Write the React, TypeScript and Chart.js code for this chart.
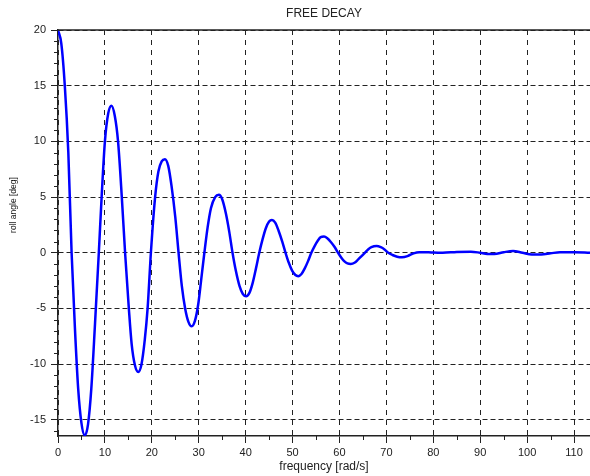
import React, { useEffect, useRef } from "react";
import { Chart, registerables } from "chart.js";

Chart.register(...registerables);

const chartTitle = "FREE DECAY";
const xAxisTitle = "frequency [rad/s]";
const yAxisTitle = "roll angle [deg]";

const xValues = [
  0, 0.7, 1.45, 2.2, 2.9, 3.6, 4.3, 5.0, 5.7,
  6.4, 7.1, 7.9, 8.7, 9.3, 10.0, 10.7, 11.4,
  12.1, 12.8, 13.6, 14.3, 15.1, 15.7, 16.4, 17.1,
  17.8, 18.5, 19.1, 19.8, 20.7, 21.4, 22.1, 22.8,
  23.5, 24.2, 25.0, 25.7, 26.4, 27.1, 27.8, 28.5,
  29.2, 29.9, 30.5, 31.2, 31.9, 32.6, 33.5, 34.3,
  35.0, 35.8, 36.5, 37.2, 37.9, 38.7, 39.4, 40.1,
  40.8, 41.5, 42.2, 42.9, 43.6, 44.3, 45.0, 45.6,
  46.3, 47.0, 47.8, 48.5, 49.2, 49.9, 50.6, 51.2,
  51.9, 52.6, 53.3, 54.0, 54.7, 55.4, 56.0, 56.7,
  57.4, 58.2, 59.0, 59.7, 60.4, 61.0, 61.7, 62.4,
  63.2, 64.0, 64.7, 65.4, 66.1, 66.8, 67.9,
  68.8, 69.6, 70.4, 71.3, 72.3, 73.3,
  74.5, 75.8, 77, 79, 80, 82, 85, 88, 90, 91.5, 93, 95, 97, 99, 101, 103, 105, 107, 110, 113.4,
];

const yValues = [
  20, 18.8, 15.0, 9.0, 0, -6.7, -12.2, -15.3, -16.4,
  -15.4, -12.2, -6.3, 0, 5.0, 10.0, 12.5, 13.2,
  12.3, 10.0, 5.0, 0, -5.0, -8.2, -10.1, -10.7,
  -10.0, -7.8, -5.0, 0, 5.0, 7.3, 8.2, 8.4,
  7.8, 6.0, 3.2, 0, -3.0, -5.0, -6.2, -6.6,
  -6.1, -4.6, -2.5, 0, 2.3, 4.0, 5.0, 5.2,
  4.8, 3.5, 1.9, 0, -1.6, -3.0, -3.7, -3.9,
  -3.6, -2.7, -1.4, 0, 1.2, 2.2, 2.8, 2.95,
  2.7, 2.0, 1.0, 0, -0.9, -1.6, -2.0, -2.1,
  -1.9, -1.4, -0.75, 0, 0.6, 1.1, 1.4, 1.45,
  1.3, 0.95, 0.5, 0, -0.45, -0.75, -0.95, -1.0,
  -0.9, -0.6, -0.3, 0, 0.3, 0.5, 0.6,
  0.5, 0.3, 0, -0.2, -0.35, -0.4,
  -0.3, -0.05, 0.05, 0.05, 0.02, 0.0, 0.08, 0.1, 0.0, -0.1, -0.1, 0.05, 0.15, 0.0, -0.15, -0.15, -0.05, 0.05, 0.05, 0.0,
];

const xTickValues = [0, 10, 20, 30, 40, 50, 60, 70, 80, 90, 100, 110];
const yTickValues = [-15, -10, -5, 0, 5, 10, 15, 20];
const xMinorTicks = [5, 15, 25, 35, 45, 55, 65, 75, 85, 95, 105];
const yMinorTicks = [
  -16, -14, -13, -12, -11, -9, -8, -7, -6, -4, -3, -2, -1,
  1, 2, 3, 4, 6, 7, 8, 9, 11, 12, 13, 14, 16, 17, 18, 19,
];
const xRange = [0, 113.4];
const yRange = [-16.45, 20];

const decorPlugin = {
  id: "decor",
  afterDraw(chart: any) {
    const { ctx, chartArea: a, scales } = chart;
    const x = scales.x;
    const y = scales.y;
    ctx.save();
    ctx.strokeStyle = "#222";
    ctx.lineWidth = 1;
    ctx.setLineDash([]);
    ctx.beginPath();
    yMinorTicks.forEach((v) => {
      const py = Math.round(y.getPixelForValue(v)) + 0.5;
      ctx.moveTo(a.left - 4, py);
      ctx.lineTo(a.left, py);
    });
    xMinorTicks.forEach((v) => {
      const px = Math.round(x.getPixelForValue(v)) + 0.5;
      ctx.moveTo(px, a.bottom);
      ctx.lineTo(px, a.bottom + 4);
    });
    ctx.stroke();
    ctx.lineWidth = 1.5;
    ctx.beginPath();
    ctx.moveTo(a.left, a.top);
    ctx.lineTo(a.right, a.top);
    ctx.stroke();

    ctx.fillStyle = "#222";
    ctx.textAlign = "center";
    ctx.textBaseline = "middle";
    ctx.font = '12px "Liberation Sans", Arial, sans-serif';
    ctx.fillText(chartTitle, (a.left + a.right) / 2, 14);
    ctx.fillText(xAxisTitle, (a.left + a.right) / 2, a.bottom + 31);
    ctx.translate(14, 205);
    ctx.rotate(-Math.PI / 2);
    ctx.fillStyle = "#111";
    ctx.font = '8.5px "Liberation Sans", Arial, sans-serif';
    ctx.fillText(yAxisTitle, 0, 0);
    ctx.restore();
  },
};

export default function App() {
  const canvasRef = useRef<HTMLCanvasElement | null>(null);

  useEffect(() => {
    const canvas = canvasRef.current;
    if (!canvas) return;
    const points = xValues.map((xv, i) => ({ x: xv, y: yValues[i] }));
    const tickFont = { family: '"Liberation Sans", Arial, sans-serif', size: 11 };
    const chart = new Chart(canvas, {
      type: "line",
      data: {
        datasets: [
          {
            data: points,
            borderColor: "#0000ff",
            borderWidth: 2.5,
            pointRadius: 0,
            fill: false,
            cubicInterpolationMode: "monotone",
          },
        ],
      },
      options: {
        responsive: false,
        animation: false,
        devicePixelRatio: 1,
        layout: { padding: { top: 30, left: 0, right: 0, bottom: 0 } },
        plugins: {
          legend: { display: false },
          tooltip: { enabled: false },
          title: { display: false },
        },
        scales: {
          x: {
            type: "linear",
            min: xRange[0],
            max: xRange[1],
            afterBuildTicks: (s: any) => {
              s.ticks = xTickValues.map((v) => ({ value: v }));
            },
            afterFit: (s: any) => {
              s.height = 40;
            },
            grid: {
              color: "#222",
              lineWidth: 1,
              tickLength: 7,
              tickColor: "#222",
              tickBorderDash: [],
              drawTicks: true,
            },
            border: { display: true, color: "#222", width: 1.5, dash: [5, 5] },
            ticks: {
              font: tickFont,
              color: "#222",
              padding: 3,
              maxRotation: 0,
              autoSkip: false,
              callback: (v: any) => String(v),
            },
          },
          y: {
            type: "linear",
            min: yRange[0],
            max: yRange[1],
            afterBuildTicks: (s: any) => {
              s.ticks = yTickValues.map((v) => ({ value: v }));
            },
            afterFit: (s: any) => {
              s.width = 58;
            },
            grid: {
              color: "#222",
              lineWidth: 1,
              tickLength: 7,
              tickColor: "#222",
              tickBorderDash: [],
              drawTicks: true,
            },
            border: { display: true, color: "#222", width: 1.5, dash: [5, 3] },
            ticks: {
              font: tickFont,
              color: "#222",
              padding: 5,
              autoSkip: false,
              callback: (v: any) => String(v),
            },
          },
        },
      },
      plugins: [decorPlugin],
    } as any);
    return () => chart.destroy();
  }, []);

  return (
    <div style={{ position: "absolute", left: 0, top: 0, width: 590, height: 476, background: "#fff" }}>
      <canvas ref={canvasRef} width={590} height={476} style={{ display: "block" }} />
    </div>
  );
}
